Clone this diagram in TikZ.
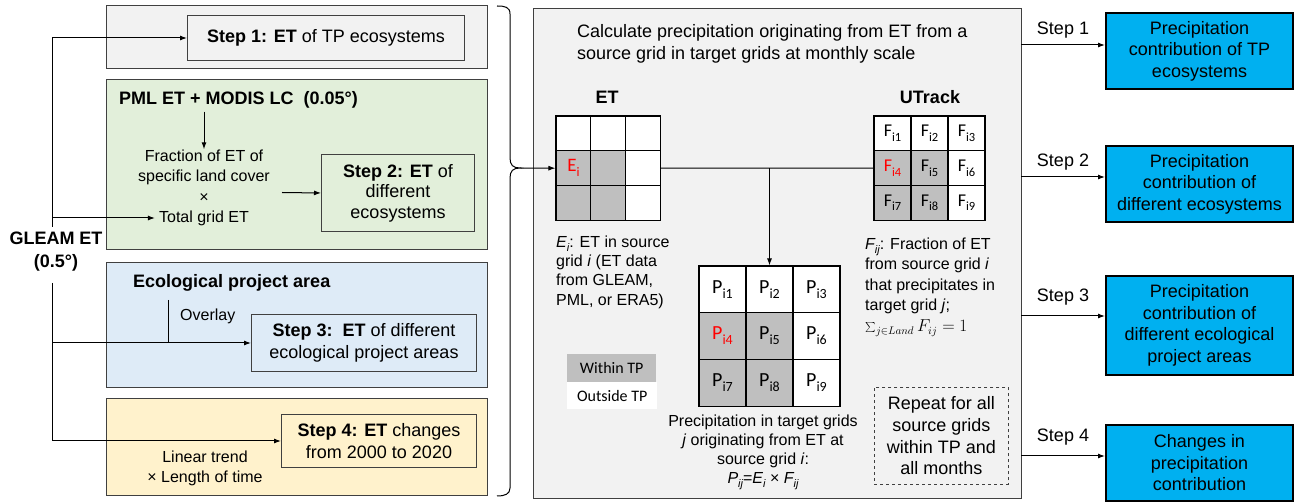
\documentclass[tikz,border=0pt]{standalone}
\usepackage{fontspec}
\setmainfont{Liberation Sans}
\newfontfamily\carl{Carlito}
\usetikzlibrary{arrows.meta,calc}
\definecolor{cgray}{HTML}{F2F2F2}
\definecolor{cgreen}{HTML}{E2EFDA}
\definecolor{cblue}{HTML}{DEEBF7}
\definecolor{cyellow}{HTML}{FFF2CC}
\definecolor{cellg}{HTML}{BFBFBF}
\definecolor{ccyan}{HTML}{00B0F0}
\definecolor{cred}{HTML}{FF0000}
\definecolor{edge}{HTML}{404040}
\newcommand\fsL{\fontsize{18}{21.5}\selectfont}
\newcommand\fsM{\fontsize{16}{19.5}\selectfont}
\newcommand\lsub[2][12.5]{\raisebox{-0.25em}{\fontsize{#1}{#1}\selectfont #2}}
\begin{document}
\begin{tikzpicture}[x=1pt,y=-1pt,
  panel/.style={draw=edge,line width=1.1pt,anchor=north west,inner sep=0pt},
  stepbox/.style={draw=edge,line width=1pt,anchor=north west,align=center,font=\fsL,inner sep=0pt},
  txt/.style={inner sep=0pt,font=\fsM},
  cell/.style={draw=black,line width=1.1pt,inner sep=0pt},
  bluebox/.style={draw=black,line width=2pt,fill=ccyan,anchor=north west,align=center,font=\fsL,inner sep=0pt,minimum width=187},
  arr/.style={-{Latex[length=7pt,width=5pt]},line width=1pt},
  conn/.style={line width=1pt}]
\useasboundingbox (0,0) rectangle (1294,502);

% ---------- left panels ----------
\node[panel,fill=cgray,minimum width=381,minimum height=63] (pa) at (106,5) {};
\node[panel,fill=cgreen,minimum width=381,minimum height=170] (pb) at (106,79) {};
\node[panel,fill=cblue,minimum width=381,minimum height=125] (pc) at (106,262) {};
\node[panel,fill=cyellow,minimum width=381,minimum height=97] (pd) at (106,398) {};

\node[stepbox,fill=cgray,minimum width=277,minimum height=45] (s1) at (187,15) {\textbf{Step 1: ET} of TP ecosystems};
\node[stepbox,minimum width=153,minimum height=77,font=\fontsize{18}{20.5}\selectfont] (s2) at (321,154) {\textbf{Step 2: ET} of\\different\\ecosystems};
\node[stepbox,minimum width=225,minimum height=57] (s3) at (251,314) {\textbf{Step 3:\ \ ET} of different\\ecological project areas};
\node[stepbox,minimum width=195,minimum height=53] (s4) at (281,414) {\textbf{Step 4: ET} changes\\from 2000 to 2020};

\node[txt,font=\fsL\bfseries,anchor=west] (pml) at (119,100) {PML ET + MODIS LC\hspace{0.55em}(0.05°)};
\node[txt,align=center,font=\fontsize{16}{20.7}\selectfont] (frac) at (204,176) {Fraction of ET of\\specific land cover\\×};
\node[txt] (tot) at (204,218) {Total grid ET};
\draw[arr] (pml.south -| frac.north) ++(0,3) -- (frac.north);
\coordinate (a2) at (282,192.5);
\draw[arr] (a2) -- (s2.west);

\node[txt,font=\fsL\bfseries,anchor=west] (eco) at (133,283) {Ecological project area};
\node[txt,anchor=west] (ovl) at (180,316) {Overlay};
\coordinate (ov1) at (168,300);
\draw[conn] (ov1) -- (ov1 |- s3.west);

\node[txt,align=center,font=\fontsize{16}{20}\selectfont] (lin) at (205,468) {Linear trend\\× Length of time};

\node[txt,align=center,font=\fontsize{18}{23}\selectfont\bfseries] (gleam) at (56,251.5) {GLEAM ET\\(0.5°)};
\coordinate (gtop) at (52,227);
\coordinate (gbot) at (52,283);
\draw[arr] (gtop) |- (s1.west);
\draw[arr] (gtop |- tot.west) -- ([xshift=-4pt]tot.west);
\draw[arr] (gbot) |- (s4.west);
\draw[arr] (gbot |- s3.west) -- (s3.west);

% brace
\coordinate (btip) at (520,168);
\draw[line width=1pt] (497,6) .. controls (505,6) and (510,7) .. (510,14) -- (510,158)
  .. controls (510,165) and (513,168) .. (btip)
  .. controls (513,168) and (510,171) .. (510,178) -- (510,488)
  .. controls (510,494) and (505,496) .. (497,496);

% ---------- middle panel ----------
\node[panel,fill=cgray,minimum width=488,minimum height=490] (mid) at (533,8) {};
\node[txt,font=\fsL,align=left,anchor=west] (title) at (577,44) {Calculate precipitation originating from ET from a\\source grid in target grids at monthly scale};
\node[txt,font=\fsL\bfseries] (etl) at (607,97) {ET};
\node[txt,font=\fsL\bfseries] (utl) at (930,97) {UTrack};

\foreach \r in {0,1,2}{\foreach \c in {0,1,2}{
  \pgfmathtruncatemacro\k{3*\r+\c+1}
  \pgfmathtruncatemacro\sh{and(\r>0,\c<2)}
  \ifnum\sh=1 \def\cf{cellg}\else\def\cf{white}\fi
  \ifnum\k=4 \def\tc{cred}\else\def\tc{black}\fi
  \node[cell,fill=\cf,minimum width=34.8,minimum height=34.8] (e\k) at ({556+34.8*(\c+0.5)},{116+34.8*(\r+0.5)}) {};
  \node[cell,fill=\cf,minimum width=37,minimum height=34.7,text=\tc,font=\carl\fontsize{18}{18}\selectfont] (u\k) at ({874+37*(\c+0.5)},{116+34.7*(\r+0.5)}) {F\lsub{i\k}};
  \node[cell,fill=\cf,minimum width=47,minimum height=46.7,text=\tc,font=\carl\fontsize{20}{20}\selectfont] (q\k) at ({699+47*(\c+0.5)},{266+46.7*(\r+0.5)}) {P\lsub[14]{i\k}};
}}
\node[txt,text=cred,font=\carl\fontsize{19}{19}\selectfont] (ei) at (e4) {E\lsub[13]{i}};

\draw[arr] (btip) -- (e4.west);
\draw[conn] (e6.east) -- (u4.west);
\draw[arr] (q2.north |- e6.east) -- (q2.north);

\node[txt,align=left,font=\fontsize{16}{19.3}\selectfont,anchor=west] (edesc) at (556,272) {\textit{E\lsub[11]{i}}: ET in source\\grid \textit{i} (ET data\\from GLEAM,\\PML, or ERA5)};
\node[txt,align=left,font=\fontsize{16}{20.5}\selectfont,anchor=west] (fdesc) at (865,287) {\textit{F\lsub[11]{ij}}: Fraction of ET\\from source grid \textit{i}\\that precipitates in\\target grid \textit{j};\\$\sum_{j\in Land}F_{ij}=1$};
\node[txt,align=center,font=\fontsize{16}{19}\selectfont] (pdesc) at (763,452) {Precipitation in target grids\\\textit{j} originating from ET at\\source grid \textit{i}:\\\textit{P\lsub[11]{ij}}=\textit{E\lsub[11]{i}} × \textit{F\lsub[11]{ij}}};

\node[fill=cellg,minimum width=89,minimum height=28,inner sep=0pt,anchor=north west,font=\carl\fontsize{16}{16}\selectfont] (within) at (567,354) {Within TP};
\node[fill=white,minimum width=90,minimum height=27,inner sep=0pt,anchor=north west,font=\carl\fontsize{16}{16}\selectfont] (outside) at (567,382) {Outside TP};

\node[draw=edge,dashed,line width=0.9pt,anchor=north west,minimum width=134,minimum height=97,inner sep=0pt,align=center,font=\fontsize{18}{21.7}\selectfont] (rep) at (874,387) {Repeat for all\\source grids\\within TP and\\all months};

% ---------- right ----------
\node[bluebox,minimum height=76] (b1) at (1105,12) {Precipitation\\contribution of TP\\ecosystems};
\node[bluebox,minimum height=76] (b2) at (1105,145) {Precipitation\\contribution of\\different ecosystems};
\node[bluebox,minimum height=99] (b3) at (1105,275) {Precipitation\\contribution of\\different ecological\\project areas};
\node[bluebox,minimum height=76] (b4) at (1105,424) {Changes in\\precipitation\\contribution};

\coordinate (r1) at (1021,45);
\coordinate (r2) at (1021,177);
\coordinate (r3) at (1021,316);
\coordinate (r4) at (1021,456);
\draw[arr] (r1) -- node[above=6pt,inner sep=0pt,font=\fsL]{Step 1} (r1 -| b1.west);
\draw[arr] (r2) -- node[above=6pt,inner sep=0pt,font=\fsL]{Step 2} (r2 -| b2.west);
\draw[arr] (r3) -- node[above=10pt,inner sep=0pt,font=\fsL]{Step 3} (r3 -| b3.west);
\draw[arr] (r4) -- node[above=10pt,inner sep=0pt,font=\fsL]{Step 4} (r4 -| b4.west);
\end{tikzpicture}
\end{document}
